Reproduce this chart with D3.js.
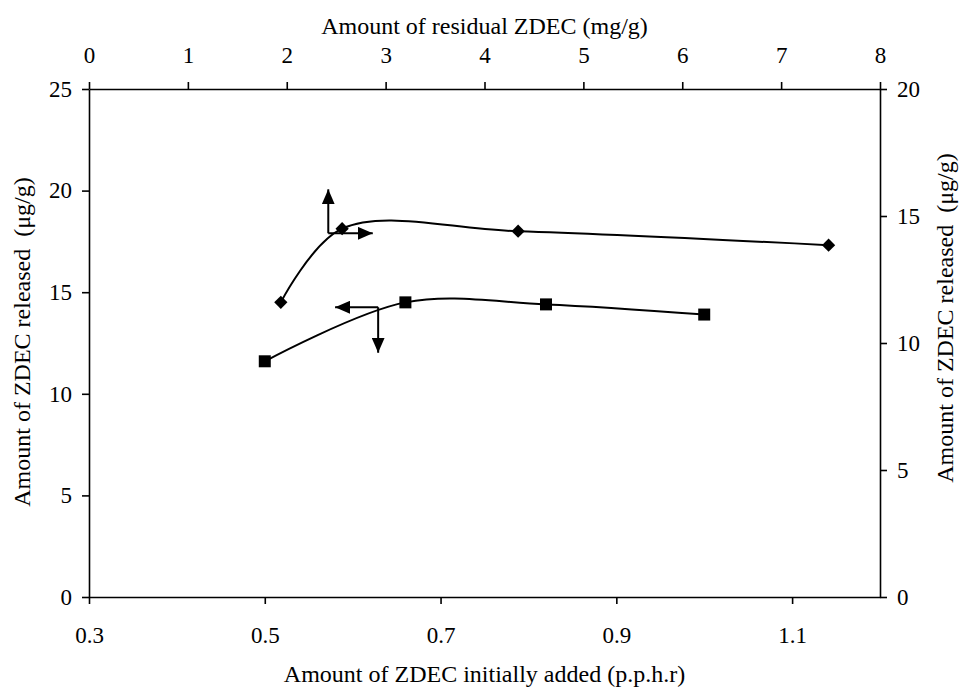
<!DOCTYPE html>
<html>
<head>
<meta charset="utf-8">
<script src="https://cdn.jsdelivr.net/npm/d3@7"></script>
<style>
    body { margin: 0; background: #fff; }
    .axis path, .axis line { stroke: #000; stroke-width: 1.6; }
    .title { font-size: 24px; fill: #000; white-space: pre; }
</style>
</head>
<body>
<div id="chart"></div>
<script>
// bottom / left axes : ZDEC initially added vs released
var addedX = [0.50, 0.66, 0.82, 1.00];
var releasedAdded = [11.6, 14.5, 14.4, 13.9];
// top / right axes : residual ZDEC vs released
var residualX = [1.94, 2.56, 4.34, 7.48];
var releasedResidual = [11.6, 14.5, 14.4, 13.85];

var bottomTicks = [0.3, 0.5, 0.7, 0.9, 1.1];
var topTicks = [0, 1, 2, 3, 4, 5, 6, 7, 8];
var leftTicks = [0, 5, 10, 15, 20, 25];
var rightTicks = [0, 5, 10, 15, 20];

// arrows telling which axes each curve belongs to: [x0, y0, x1, y1]
var arrowsResidual = [[2.42, 14.32, 2.42, 16.05], [2.42, 14.32, 2.87, 14.32]];
var arrowsAdded = [[0.629, 14.26, 0.58, 14.26], [0.629, 14.26, 0.629, 12.02]];

var serif = "Liberation Serif, Times New Roman, serif";
var w = 962, h = 687;
var margin = {left: 89, right: 82, top: 89, bottom: 90};
var iw = w - margin.left - margin.right;
var ih = h - margin.top - margin.bottom;

var xBottom = d3.scaleLinear().domain([0.3, 1.2]).range([0, iw]);
var xTop = d3.scaleLinear().domain([0, 8]).range([0, iw]);
var yLeft = d3.scaleLinear().domain([0, 25]).range([ih, 0]);
var yRight = d3.scaleLinear().domain([0, 20]).range([ih, 0]);

var svg = d3.select("#chart").append("svg")
    .attr("width", w)
    .attr("height", h)
    .attr("font-family", serif);

var defs = svg.append("defs");
defs.append("marker")
    .attr("id", "head")
    .attr("viewBox", "0 0 15 13")
    .attr("refX", 15)
    .attr("refY", 6.5)
    .attr("markerUnits", "userSpaceOnUse")
    .attr("markerWidth", 15)
    .attr("markerHeight", 13)
    .attr("orient", "auto")
    .append("path")
    .attr("d", "M0,0 L15,6.5 L0,13 Z")
    .attr("fill", "#000");

var g = svg.append("g").attr("transform", "translate(" + margin.left + "," + margin.top + ")");

//坐标轴
function styleAxis(sel){
    sel.attr("font-family", serif).attr("font-size", 23);
    sel.selectAll("text").attr("fill", "#000");
}
g.append("g").attr("class", "axis")
    .attr("transform", "translate(0," + ih + ")")
    .call(d3.axisBottom(xBottom).tickValues(bottomTicks).tickFormat(d3.format(".1f")).tickSize(7).tickPadding(23).tickSizeOuter(0))
    .call(styleAxis);
g.append("g").attr("class", "axis")
    .call(d3.axisTop(xTop).tickValues(topTicks).tickFormat(d3.format("d")).tickSize(7).tickPadding(19).tickSizeOuter(0))
    .call(styleAxis);
g.append("g").attr("class", "axis")
    .call(d3.axisLeft(yLeft).tickValues(leftTicks).tickSize(7).tickPadding(10).tickSizeOuter(0))
    .call(styleAxis);
g.append("g").attr("class", "axis")
    .attr("transform", "translate(" + iw + ",0)")
    .call(d3.axisRight(yRight).tickValues(rightTicks).tickSize(7).tickPadding(10).tickSizeOuter(0))
    .call(styleAxis);

//曲线
var lineAdded = d3.line()
    .x((d, i) => xBottom(addedX[i]))
    .y(d => yLeft(d))
    .curve(d3.curveCatmullRom.alpha(0.5));
var lineResidual = d3.line()
    .x((d, i) => xTop(residualX[i]))
    .y(d => yRight(d))
    .curve(d3.curveCatmullRom.alpha(0.5));

g.append("path")
    .attr("d", lineResidual(releasedResidual))
    .attr("fill", "none")
    .attr("stroke", "#000")
    .attr("stroke-width", 2);
g.append("path")
    .attr("d", lineAdded(releasedAdded))
    .attr("fill", "none")
    .attr("stroke", "#000")
    .attr("stroke-width", 2);

//点
g.selectAll(".sq")
    .data(releasedAdded)
    .enter()
    .append("path")
    .attr("class", "sq")
    .attr("d", d3.symbol().type(d3.symbolSquare).size(144))
    .attr("transform", (d, i) => "translate(" + xBottom(addedX[i]) + "," + yLeft(d) + ")")
    .attr("fill", "#000");
g.selectAll(".dm")
    .data(releasedResidual)
    .enter()
    .append("path")
    .attr("class", "dm")
    .attr("d", d3.symbol().type(d3.symbolSquare).size(88))
    .attr("transform", (d, i) => "translate(" + xTop(residualX[i]) + "," + yRight(d) + ") rotate(45)")
    .attr("fill", "#000");

//箭头
g.selectAll(".arrR")
    .data(arrowsResidual)
    .enter()
    .append("line")
    .attr("x1", d => xTop(d[0]))
    .attr("y1", d => yRight(d[1]))
    .attr("x2", d => xTop(d[2]))
    .attr("y2", d => yRight(d[3]))
    .attr("stroke", "#000")
    .attr("stroke-width", 2)
    .attr("marker-end", "url(#head)");
g.selectAll(".arrA")
    .data(arrowsAdded)
    .enter()
    .append("line")
    .attr("x1", d => xBottom(d[0]))
    .attr("y1", d => yLeft(d[1]))
    .attr("x2", d => xBottom(d[2]))
    .attr("y2", d => yLeft(d[3]))
    .attr("stroke", "#000")
    .attr("stroke-width", 2)
    .attr("marker-end", "url(#head)");

//标题
svg.append("text").attr("class", "title")
    .attr("x", margin.left + iw / 2).attr("y", 34)
    .attr("text-anchor", "middle")
    .text("Amount of residual ZDEC (mg/g)");
svg.append("text").attr("class", "title")
    .attr("x", margin.left + iw / 2).attr("y", 682)
    .attr("text-anchor", "middle")
    .text("Amount of ZDEC initially added (p.p.h.r)");
svg.append("text").attr("class", "title")
    .attr("transform", "translate(30,342) rotate(-90)")
    .attr("text-anchor", "middle")
    .text("Amount of ZDEC released  (μg/g)");
svg.append("text").attr("class", "title")
    .attr("transform", "translate(953,318) rotate(-90)")
    .attr("text-anchor", "middle")
    .text("Amount of ZDEC released  (μg/g)");
</script>
</body>
</html>
